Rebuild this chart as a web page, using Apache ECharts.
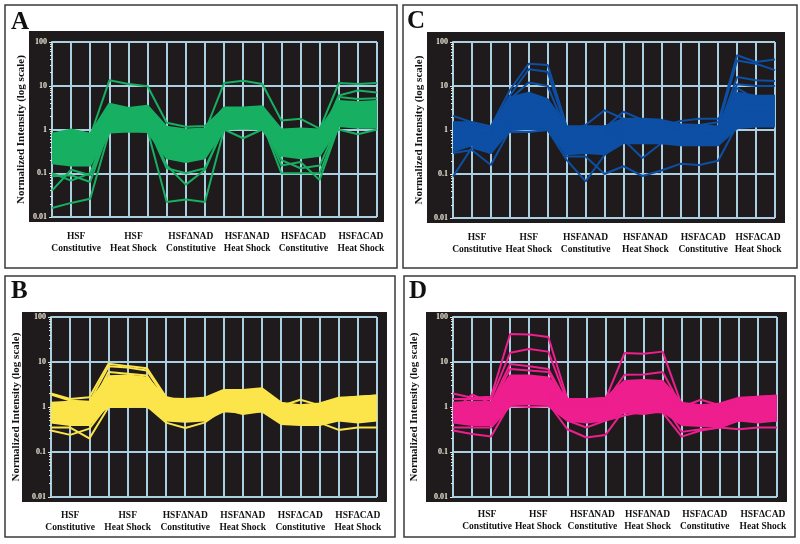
<!DOCTYPE html>
<html><head><meta charset="utf-8">
<script src="https://cdn.jsdelivr.net/npm/echarts@6/dist/echarts.min.js"></script>
<style>html,body{margin:0;padding:0;background:#fff}#c{width:800px;height:544px}</style>
</head><body><div id="c"></div>
<script>
// ---- categories ----
const conditions = [['HSF','Constitutive'],['HSF','Heat Shock'],['HSFΔNAD','Constitutive'],['HSFΔNAD','Heat Shock'],['HSFΔCAD','Constitutive'],['HSFΔCAD','Heat Shock']];
const replicates = ['1','2','3'];
const yTickValues = [0.01, 0.1, 1, 10, 100];
const yTitle = 'Normalized Intensity (log scale)';
const panelLetters = ['A','B','C','D'];

// ---- Panel A (green) ----
const aUpper = [0.8, 1.0, 0.8, 3.9, 3.1, 3.5, 1.15, 1.0, 1.05, 3.2, 3.2, 3.4, 1.0, 1.05, 1.0, 4.5, 4.2, 4.5];
const aLower = [0.17, 0.15, 0.15, 0.85, 0.9, 0.88, 0.22, 0.18, 0.22, 1.0, 1.05, 1.0, 0.25, 0.22, 0.25, 1.2, 1.1, 1.1];
const aLines = [
  [0.016, 0.021, 0.026, 0.9, 0.95, 0.92, 0.45, 0.4, 0.45, 1.6, 1.7, 1.6, 0.5, 0.45, 0.5, 2.0, 1.8, 2.0],
  [0.04, 0.12, 0.09, 1.0, 1.1, 1.0, 0.35, 0.3, 0.35, 1.4, 1.4, 1.5, 0.35, 0.3, 0.35, 1.6, 1.5, 1.6],
  [0.1, 0.068, 0.1, 1.2, 1.3, 1.2, 0.3, 0.28, 0.3, 1.3, 1.3, 1.3, 0.3, 0.3, 0.3, 1.5, 1.4, 1.5],
  [0.085, 0.09, 0.063, 1.1, 1.2, 1.1, 0.5, 0.5, 0.5, 2.0, 2.0, 2.0, 0.6, 0.6, 0.6, 2.5, 2.5, 2.5],
  [0.7, 0.6, 0.7, 13.3, 11, 9.7, 1.43, 1.15, 1.2, 3.0, 3.0, 3.0, 0.8, 0.8, 0.8, 3.0, 3.0, 3.0],
  [0.5, 0.5, 0.5, 1.0, 1.0, 0.95, 0.022, 0.025, 0.022, 1.0, 1.1, 1.0, 0.4, 0.4, 0.4, 2.0, 2.0, 2.0],
  [0.4, 0.4, 0.4, 1.5, 1.5, 1.5, 0.15, 0.055, 0.12, 1.2, 1.3, 1.2, 0.3, 0.3, 0.3, 1.8, 1.8, 1.8],
  [0.3, 0.3, 0.3, 1.2, 1.2, 1.2, 0.13, 0.1, 0.13, 1.1, 1.1, 1.1, 0.35, 0.35, 0.35, 1.5, 1.5, 1.5],
  [0.5, 0.5, 0.5, 2.0, 2.0, 2.0, 0.8, 0.8, 0.9, 11.5, 13, 11, 1.6, 1.75, 1.05, 3.0, 3.0, 3.0],
  [0.4, 0.4, 0.4, 1.5, 1.5, 1.5, 0.5, 0.5, 0.5, 1.0, 0.63, 1.0, 0.3, 0.3, 0.3, 1.5, 1.5, 1.5],
  [0.3, 0.3, 0.3, 1.2, 1.2, 1.2, 0.4, 0.4, 0.4, 1.4, 1.4, 1.4, 0.1, 0.1, 0.1, 1.3, 1.3, 1.3],
  [0.3, 0.3, 0.3, 1.3, 1.3, 1.3, 0.4, 0.4, 0.4, 1.5, 1.5, 1.5, 0.15, 0.18, 0.07, 1.2, 1.2, 1.2],
  [0.35, 0.35, 0.35, 1.4, 1.4, 1.4, 0.35, 0.35, 0.35, 1.6, 1.6, 1.6, 0.2, 0.13, 0.15, 1.4, 1.4, 1.4],
  [0.6, 0.6, 0.6, 2.5, 2.5, 2.5, 0.6, 0.6, 0.6, 2.5, 2.5, 2.5, 0.7, 0.7, 1.0, 11.5, 11, 11.5],
  [0.5, 0.5, 0.5, 2.2, 2.2, 2.2, 0.5, 0.5, 0.5, 2.2, 2.2, 2.2, 0.6, 0.6, 0.6, 6.0, 7.8, 7.0],
  [0.45, 0.45, 0.45, 2.0, 2.0, 2.0, 0.45, 0.45, 0.45, 2.0, 2.0, 2.0, 0.5, 0.5, 0.5, 5.5, 5.0, 5.2],
  [0.4, 0.4, 0.4, 1.8, 1.8, 1.8, 0.4, 0.4, 0.4, 1.8, 1.8, 1.8, 0.4, 0.4, 0.4, 1.0, 0.78, 1.0]
];

// ---- Panel B (yellow) ----
const bUpper = [1.25, 1.3, 1.3, 4.8, 5, 4.5, 1.55, 1.5, 1.6, 2.4, 2.4, 2.6, 1.25, 1.1, 1.2, 1.6, 1.7, 1.8];
const bLower = [0.45, 0.4, 0.4, 1.1, 1.1, 1.1, 0.5, 0.47, 0.5, 0.8, 0.75, 0.8, 0.42, 0.4, 0.4, 0.5, 0.45, 0.5];
const bLines = [
  [2.0, 1.5, 1.65, 9.1, 8.1, 7.3, 1.66, 1.3, 1.3, 1.5, 1.5, 1.5, 0.9, 0.9, 0.9, 1.0, 1.0, 1.0],
  [1.9, 1.4, 1.3, 8, 7.5, 6.5, 1.5, 1.2, 1.2, 1.4, 1.4, 1.4, 0.8, 0.8, 0.8, 0.9, 0.9, 0.9],
  [0.3, 0.24, 0.33, 1.2, 1.2, 1.2, 0.6, 0.6, 0.6, 1.0, 1.0, 1.0, 0.6, 0.6, 0.6, 0.7, 0.7, 0.7],
  [0.35, 0.35, 0.2, 1.0, 1.05, 1.0, 0.7, 0.7, 0.7, 1.1, 1.1, 1.1, 0.7, 0.7, 0.7, 0.8, 0.8, 0.8],
  [0.9, 0.9, 0.9, 6, 5.5, 5, 1.2, 1.2, 1.2, 1.5, 1.5, 1.5, 0.9, 0.9, 0.9, 1.0, 1.0, 1.0],
  [0.6, 0.6, 0.6, 1.0, 1.0, 1.05, 0.45, 0.34, 0.45, 0.9, 0.7, 0.8, 0.6, 0.6, 0.6, 0.7, 0.7, 0.7],
  [0.8, 0.8, 0.8, 2, 2, 2, 0.8, 0.8, 0.8, 0.95, 0.8, 0.85, 0.5, 0.5, 0.5, 0.6, 0.6, 0.6],
  [0.8, 0.8, 0.8, 2, 2, 2, 0.9, 0.9, 0.9, 1.2, 1.2, 1.2, 1.05, 1.45, 1.1, 1.2, 1.2, 1.2],
  [0.7, 0.7, 0.7, 1.8, 1.8, 1.8, 0.7, 0.7, 0.7, 1.0, 1.0, 1.0, 0.45, 0.45, 0.45, 0.31, 0.35, 0.35],
  [0.8, 0.8, 0.8, 2, 2, 2, 0.9, 0.9, 0.9, 1.2, 1.2, 1.2, 0.8, 0.8, 0.8, 1.5, 1.7, 1.8]
];

// ---- Panel C (blue) ----
const cUpper = [1.5, 1.5, 1.2, 5.5, 7, 5, 1.2, 1.2, 1.2, 1.8, 1.8, 1.7, 1.35, 1.3, 1.2, 7, 6, 6];
const cLower = [0.33, 0.45, 0.3, 1.0, 1.05, 1.0, 0.28, 0.3, 0.28, 0.5, 0.5, 0.5, 0.45, 0.45, 0.45, 1.1, 1.2, 1.2];
const cLines = [
  [0.087, 0.4, 0.3, 1.2, 1.2, 1.2, 0.5, 0.5, 0.5, 0.8, 0.8, 0.8, 0.6, 0.6, 0.6, 1.5, 1.5, 1.5],
  [0.3, 0.35, 0.16, 1.0, 1.1, 1.0, 0.4, 0.4, 0.4, 0.7, 0.7, 0.7, 0.5, 0.5, 0.5, 1.4, 1.4, 1.4],
  [2.1, 1.5, 1.2, 8, 32, 30, 1.2, 1.2, 1.2, 1.5, 1.5, 1.5, 1.0, 1.0, 1.0, 3, 3, 3],
  [1.2, 1.2, 1.1, 6, 24, 21, 1.0, 1.0, 1.0, 1.2, 1.2, 1.2, 0.9, 0.9, 0.9, 2.5, 2.5, 2.5],
  [1.0, 1.0, 1.0, 5, 12, 10, 0.9, 0.9, 0.9, 1.0, 1.0, 1.0, 0.8, 0.8, 0.8, 2, 2, 2],
  [0.6, 0.6, 0.6, 0.9, 0.9, 1.0, 0.21, 0.068, 0.27, 0.6, 0.6, 0.6, 0.5, 0.5, 0.5, 1.5, 1.5, 1.5],
  [0.6, 0.6, 0.6, 1.5, 1.5, 1.5, 0.25, 0.25, 0.1, 0.15, 0.09, 0.12, 0.17, 0.16, 0.2, 1.3, 1.3, 1.3],
  [0.8, 0.8, 0.8, 2, 2, 2, 0.9, 1.3, 2.8, 1.8, 1.6, 1.5, 1.0, 1.0, 1.0, 2, 2, 2],
  [0.8, 0.8, 0.8, 2, 2, 2, 1.0, 1.1, 1.1, 2.6, 1.7, 1.6, 1.0, 1.0, 1.0, 2, 2, 2],
  [0.7, 0.7, 0.7, 1.5, 1.5, 1.5, 0.5, 0.5, 0.5, 0.6, 0.23, 0.5, 0.5, 0.5, 0.5, 1.5, 1.5, 1.5],
  [1.0, 1.0, 1.0, 2, 2, 2, 1.0, 1.0, 1.0, 1.2, 1.2, 1.2, 1.6, 1.8, 1.8, 4, 4, 4],
  [1.0, 1.0, 1.0, 3, 3, 3, 1.0, 1.0, 1.0, 1.2, 1.2, 1.2, 1.2, 1.3, 1.5, 50, 35, 40],
  [1.0, 1.0, 1.0, 3, 3, 3, 1.0, 1.0, 1.0, 1.2, 1.2, 1.2, 1.1, 1.1, 1.2, 38, 32, 23],
  [0.9, 0.9, 0.9, 2.5, 2.5, 2.5, 0.9, 0.9, 0.9, 1.1, 1.1, 1.1, 1.0, 1.0, 1.0, 16, 13.5, 13],
  [0.9, 0.9, 0.9, 2.5, 2.5, 2.5, 0.9, 0.9, 0.9, 1.1, 1.1, 1.1, 1.0, 1.0, 1.0, 11, 10, 10],
  [0.8, 0.8, 0.8, 1.5, 1.5, 1.5, 0.7, 0.7, 0.7, 0.9, 0.9, 0.9, 0.9, 0.9, 0.9, 9, 5, 5]
];

// ---- Panel D (pink) ----
const dUpper = [1.25, 1.3, 1.3, 5, 5, 4.5, 1.5, 1.5, 1.6, 3.8, 4, 3.8, 1.25, 1.1, 1.2, 1.6, 1.7, 1.8];
const dLower = [0.45, 0.4, 0.4, 1.15, 1.15, 1.15, 0.5, 0.45, 0.5, 0.75, 0.7, 0.8, 0.4, 0.38, 0.38, 0.5, 0.45, 0.5];
const dLines = [
  [2.0, 1.6, 1.7, 42, 41, 36, 1.5, 1.4, 1.6, 3, 3, 3, 1.0, 1.0, 1.0, 1.2, 1.2, 1.2],
  [1.5, 1.5, 1.5, 16, 19.5, 17, 1.3, 1.3, 1.3, 2.5, 2.5, 2.5, 0.9, 0.9, 0.9, 1.1, 1.1, 1.1],
  [1.2, 1.2, 1.2, 9, 8, 7, 1.2, 1.2, 1.2, 2.5, 2.5, 2.5, 0.9, 0.9, 0.9, 1.0, 1.0, 1.0],
  [1.1, 1.1, 1.1, 7, 6.5, 6, 1.1, 1.1, 1.1, 2, 2, 2, 0.8, 0.8, 0.8, 1.0, 1.0, 1.0],
  [1.0, 1.0, 1.0, 2, 2, 2, 1.2, 1.3, 1.5, 15.8, 15.2, 17, 1.1, 1.0, 1.0, 1.2, 1.2, 1.2],
  [1.0, 1.0, 1.0, 2, 2, 2, 1.1, 1.2, 1.3, 5.2, 5.3, 6, 1.0, 1.0, 1.0, 1.1, 1.1, 1.1],
  [0.3, 0.25, 0.22, 1.2, 1.2, 1.2, 0.32, 0.21, 0.24, 0.9, 0.9, 0.9, 0.6, 0.6, 0.6, 0.7, 0.7, 0.7],
  [0.35, 0.35, 0.35, 1.05, 1.0, 1.05, 0.5, 0.35, 0.5, 0.65, 0.8, 0.75, 0.22, 0.3, 0.35, 0.5, 0.5, 0.5],
  [0.7, 0.7, 0.7, 1.5, 1.5, 1.5, 0.8, 0.8, 0.8, 1.2, 1.2, 1.2, 0.28, 0.32, 0.35, 0.32, 0.35, 0.35],
  [0.8, 1.9, 1.2, 2, 2, 2, 0.9, 0.9, 0.9, 1.2, 1.2, 1.2, 1.0, 1.45, 1.1, 1.5, 1.7, 1.75]
];

// ---- layout / style (not data) ----
const SERIF = '"Liberation Serif","Times New Roman","DejaVu Serif",serif';
const DARK = '#1f1b1c';
const GRIDC = '#aacfe0';
const panels = [
  {letter:'A', color:'#17b062', upper:aUpper, lower:aLower, lines:aLines,
   grid:{left:52, top:42, width:325, height:175}, dark:[29,31,355,191], border:[5,5,392,263],
   letterPos:[11,10], nameGap:25, offs:[5,5,5,4,3,3], margin:14},
  {letter:'B', color:'#fbe54a', upper:bUpper, lower:bLower, lines:bLines,
   grid:{left:51, top:317, width:326, height:180}, dark:[22,312,365,190], border:[5,276,390,261],
   letterPos:[11,279], nameGap:29, offs:[0,0,0,0,0,0], margin:13},
  {letter:'C', color:'#0c4fa4', upper:cUpper, lower:cLower, lines:cLines,
   grid:{left:453, top:42, width:322, height:176}, dark:[427,32,358,191], border:[403,5,394,263],
   letterPos:[407,9], nameGap:28, offs:[5,0,0,3,4,2], margin:14},
  {letter:'D', color:'#ee1e8e', upper:dUpper, lower:dLower, lines:dLines,
   grid:{left:453, top:317, width:324, height:180}, dark:[426,312,361,190], border:[404,276,391,261],
   letterPos:[409,279], nameGap:33, offs:[15,9,6,4,4,5], margin:12}
];

const xCats = [];
conditions.forEach(c => replicates.forEach(r => xCats.push(c.join(' ') + ' #' + r)));

const grids = [], xAxes = [], yAxes = [], series = [], graphics = [];
panels.forEach((p, i) => {
  grids.push(Object.assign({}, p.grid));
  const rich = {};
  p.offs.forEach((o, g) => {
    rich['o' + g] = {fontFamily: SERIF, fontWeight: 'bold', fontSize: 9.5, color: '#111', lineHeight: 12, padding: [0, 0, 0, 2 * o]};
  });
  xAxes.push({
    type: 'category', gridIndex: i, data: xCats, boundaryGap: false,
    axisLine: {show: false}, axisTick: {show: false},
    splitLine: {show: true, lineStyle: {color: GRIDC, width: 2}},
    axisLabel: {
      interval: 0, margin: p.margin,
      fontFamily: SERIF, fontWeight: 'bold', fontSize: 9.5, color: '#111', lineHeight: 12,
      formatter: (v, idx) => {
        if (idx % 3 !== 1) return '';
        const g = Math.floor(idx / 3);
        return '{o' + g + '|' + conditions[g][0] + '}\n{o' + g + '|' + conditions[g][1] + '}';
      },
      rich: rich
    }
  });
  yAxes.push({
    type: 'log', logBase: 10, gridIndex: i, min: yTickValues[0], max: yTickValues[yTickValues.length - 1],
    name: yTitle, nameLocation: 'middle', nameRotate: 90, nameGap: p.nameGap,
    nameTextStyle: {fontFamily: SERIF, fontWeight: 'bold', fontSize: 11, color: '#111'},
    axisLine: {show: true, lineStyle: {color: GRIDC, width: 2}},
    axisTick: {show: true, length: 3, lineStyle: {color: '#e8e4d6', width: 1}},
    minorTick: {show: true, splitNumber: 9, length: 2, lineStyle: {color: '#e8e4d6', width: 1}},
    splitLine: {show: true, lineStyle: {color: GRIDC, width: 2}},
    axisLabel: {
      margin: 5, fontFamily: SERIF, fontWeight: 'bold', fontSize: 8, color: '#ece6d6',
      formatter: v => {
        const k = yTickValues.find(t => Math.abs(t - v) / t < 1e-6);
        return k === undefined ? '' : String(k);
      }
    }
  });
  const stackId = 'band' + i;
  series.push({
    type: 'line', xAxisIndex: i, yAxisIndex: i, stack: stackId, data: p.lower,
    symbol: 'none', lineStyle: {color: p.color, width: 2}, silent: true, z: 3
  });
  series.push({
    type: 'line', xAxisIndex: i, yAxisIndex: i, stack: stackId,
    data: p.upper.map((u, k) => u - p.lower[k]),
    symbol: 'none', lineStyle: {color: p.color, width: 2},
    areaStyle: {color: p.color, opacity: 1}, silent: true, z: 3
  });
  p.lines.forEach(l => {
    series.push({
      type: 'line', xAxisIndex: i, yAxisIndex: i, data: l,
      symbol: 'none', lineStyle: {color: p.color, width: 2}, silent: true, z: 4
    });
  });
  graphics.push({type: 'rect', z: -20, silent: true,
    shape: {x: p.border[0], y: p.border[1], width: p.border[2], height: p.border[3]},
    style: {fill: '#fff', stroke: '#3a3a3a', lineWidth: 1.5}});
  graphics.push({type: 'rect', z: -10, silent: true,
    shape: {x: p.dark[0], y: p.dark[1], width: p.dark[2], height: p.dark[3]},
    style: {fill: DARK}});
  graphics.push({type: 'text', z: 10, silent: true, x: p.letterPos[0], y: p.letterPos[1],
    style: {text: p.letter, font: 'bold 25px ' + SERIF, fill: '#111', textVerticalAlign: 'top', verticalAlign: 'top'}});
});

const chart = echarts.init(document.getElementById('c'), null, {renderer: 'canvas'});
chart.setOption({
  animation: false,
  backgroundColor: '#fff',
  grid: grids, xAxis: xAxes, yAxis: yAxes, series: series, graphic: graphics
});
</script></body></html>
